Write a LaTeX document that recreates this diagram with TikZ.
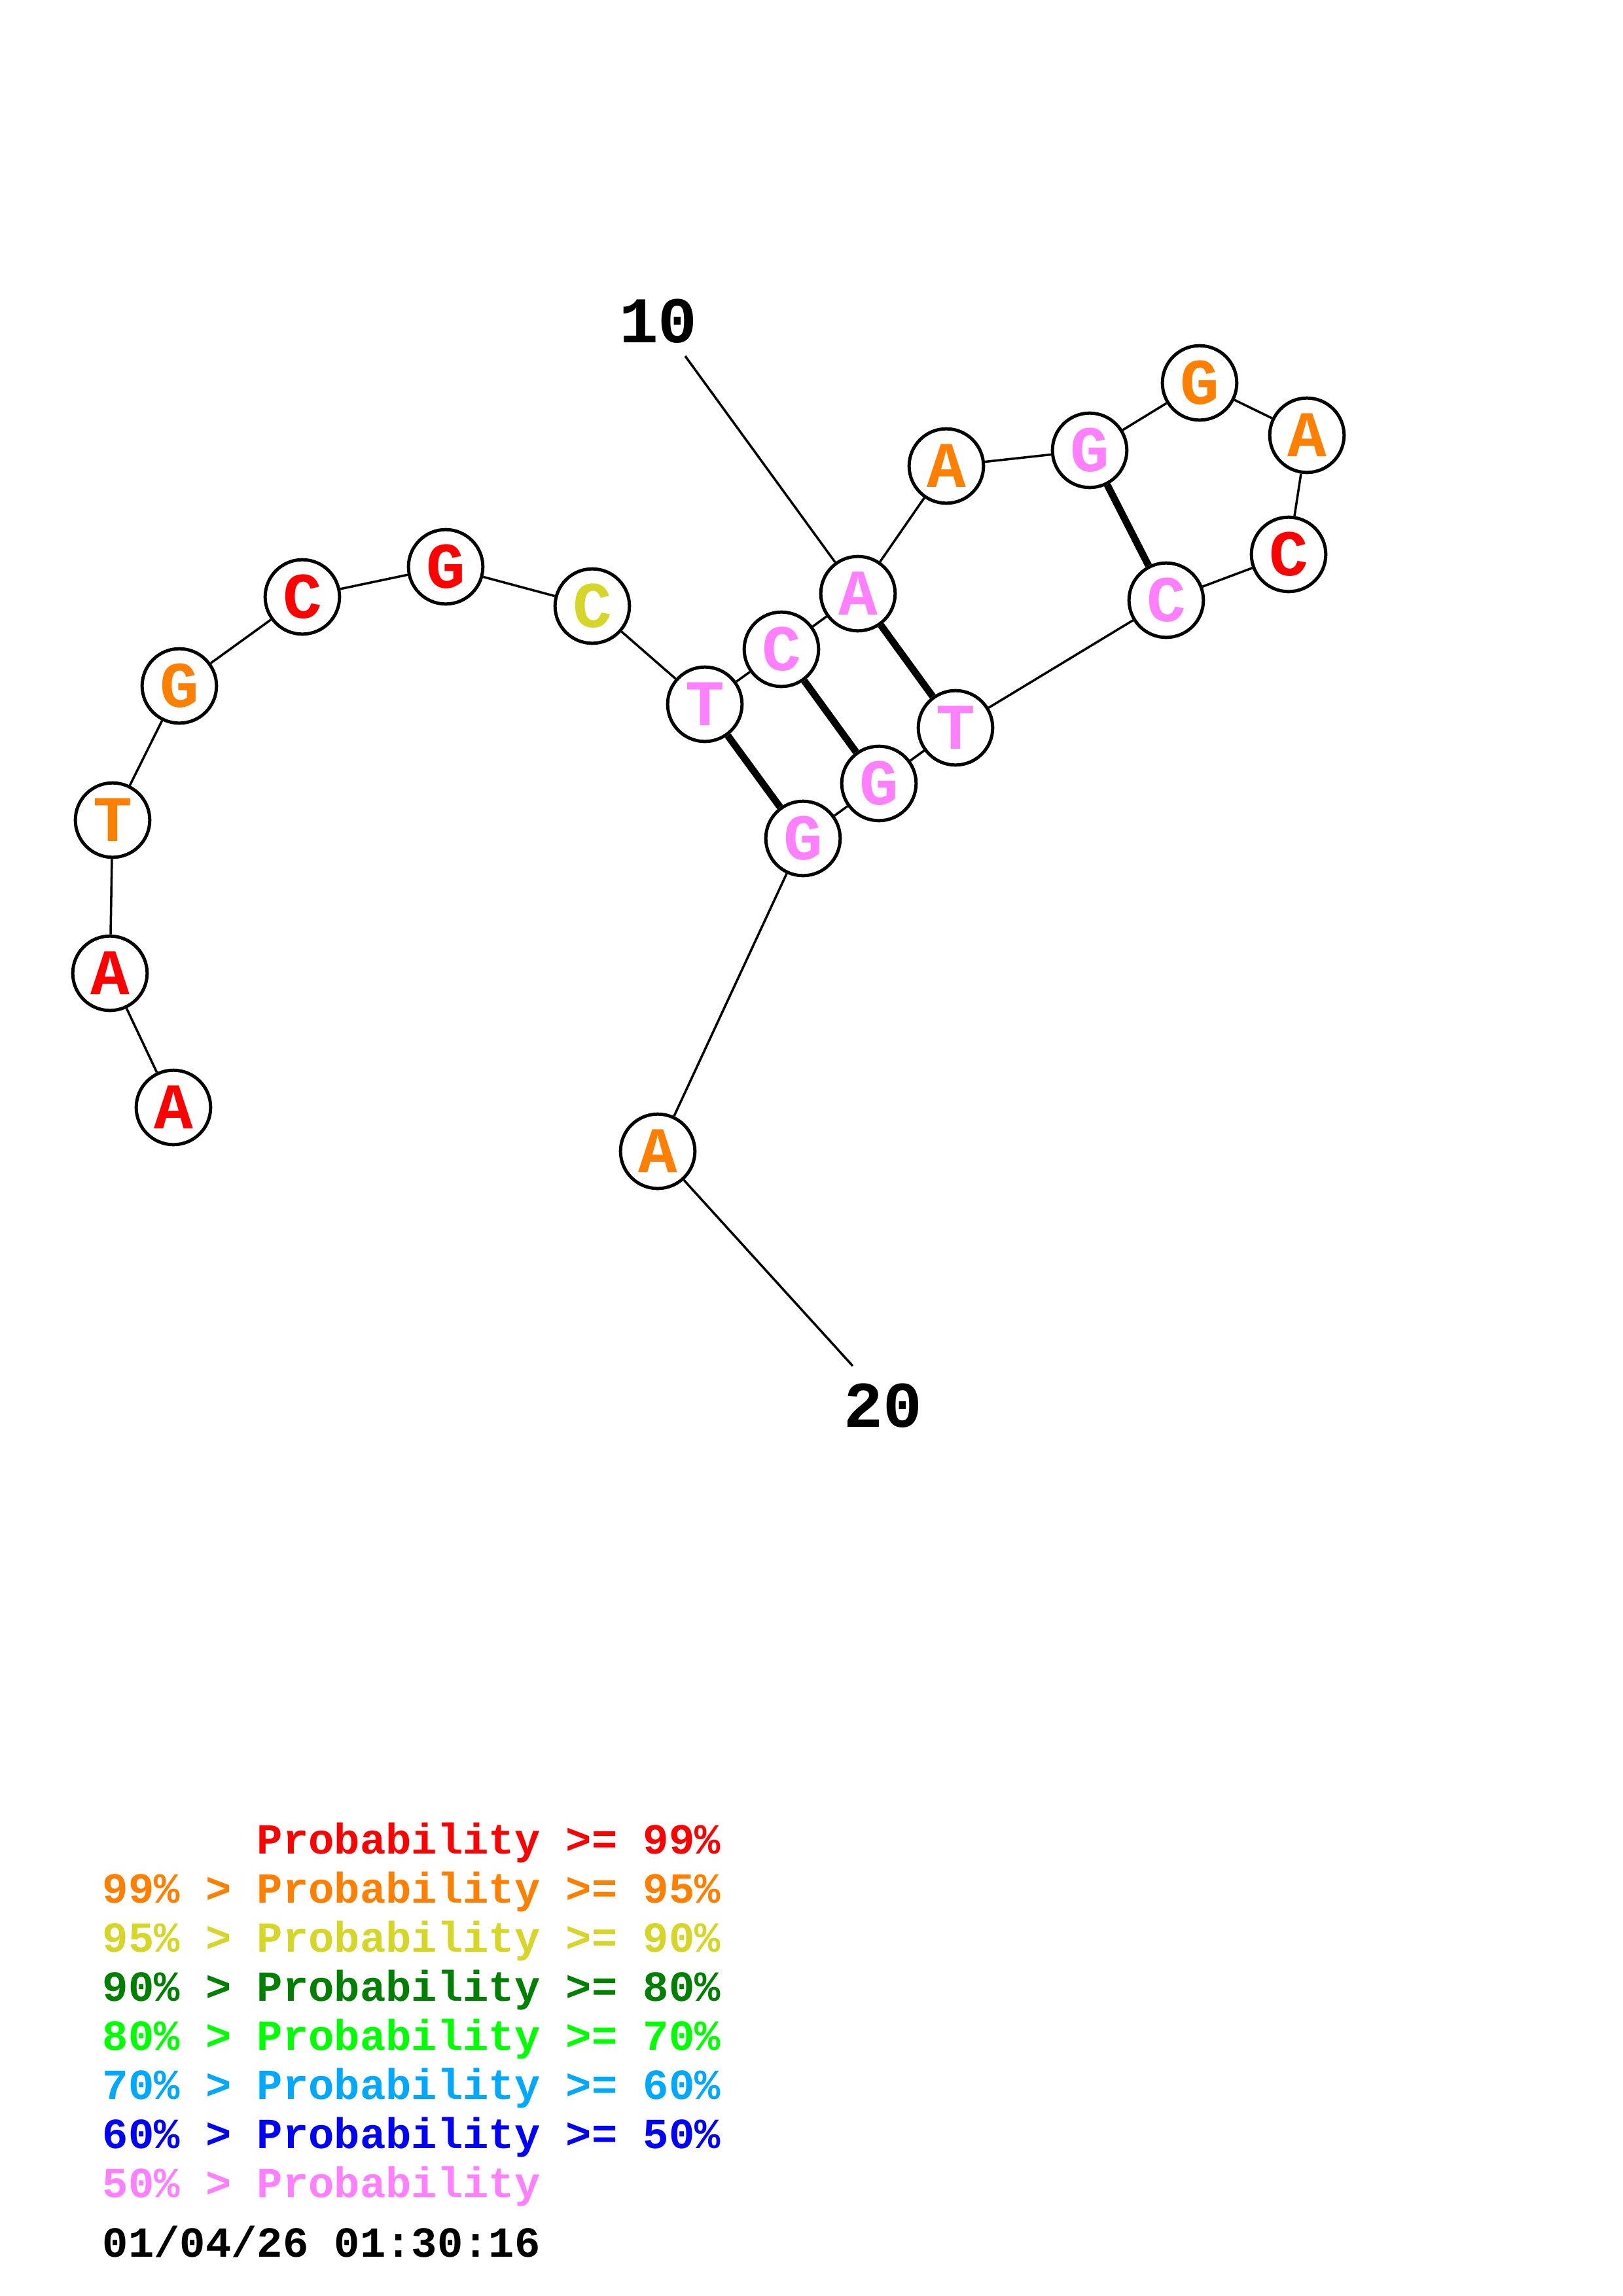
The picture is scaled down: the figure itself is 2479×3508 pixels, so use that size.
\documentclass[tikz,border=0pt]{standalone}
\usepackage{fontspec}
\setmonofont{Liberation Mono}
\usepackage{tikz}
\usetikzlibrary{positioning}

\definecolor{pOne}{RGB}{255,0,0}
\definecolor{pTwo}{RGB}{255,128,0}
\definecolor{pThree}{RGB}{214,214,40}
\definecolor{pFour}{RGB}{0,128,0}
\definecolor{pFive}{RGB}{0,255,0}
\definecolor{pSix}{RGB}{0,168,255}
\definecolor{pSeven}{RGB}{0,0,255}
\definecolor{pEight}{RGB}{255,128,255}

\newcommand{\nucfont}{\ttfamily\bfseries\fontsize{24}{24}\selectfont}
\newcommand{\legfont}{\ttfamily\bfseries\fontsize{15.8}{18}\selectfont}

\begin{document}
\begin{tikzpicture}[x=0.08471mm, y=-0.08471mm,
    nuc/.style={circle, draw, line width=1.2pt, minimum size=27.4pt, inner sep=0pt, fill=white, font=\nucfont},
    bb/.style={line width=0.85pt},
    pair/.style={line width=2.6pt},
    num/.style={inner sep=0pt, font=\nucfont},
    leg/.style={anchor=base west, inner sep=0pt, font=\legfont}]
    \useasboundingbox (0,0) rectangle (2479,3508);

    % bases
    \node [nuc, text=pOne] (n1) at (265,1692) {A};
    \node [nuc, text=pOne] (n2) at (168,1487) {A};
    \node [nuc, text=pTwo] (n3) at (172,1253) {T};
    \node [nuc, text=pTwo] (n4) at (274,1048) {G};
    \node [nuc, text=pOne] (n5) at (462,912) {C};
    \node [nuc, text=pOne] (n6) at (681,866) {G};
    \node [nuc, text=pThree] (n7) at (905,926) {C};
    \node [nuc, text=pEight] (n8) at (1077,1076) {T};
    \node [nuc, text=pEight] (n9) at (1194,992) {C};
    \node [nuc, text=pEight] (n10) at (1311,907) {A};
    \node [nuc, text=pTwo] (n11) at (1446,712) {A};
    \node [nuc, text=pEight] (n12) at (1665,688) {G};
    \node [nuc, text=pTwo] (n13) at (1833,585) {G};
    \node [nuc, text=pTwo] (n14) at (1997,665) {A};
    \node [nuc, text=pOne] (n15) at (1969,847) {C};
    \node [nuc, text=pEight] (n16) at (1782,917) {C};
    \node [nuc, text=pEight] (n17) at (1460,1112) {T};
    \node [nuc, text=pEight] (n18) at (1343,1197) {G};
    \node [nuc, text=pEight] (n19) at (1227,1281) {G};
    \node [nuc, text=pTwo] (n20) at (1005,1759) {A};

    % backbone and pairs
    \draw [bb] (n1) -- (n2) -- (n3) -- (n4) -- (n5) -- (n6) -- (n7) -- (n8) -- (n9) -- (n10)
        -- (n11) -- (n12) -- (n13) -- (n14) -- (n15) -- (n16) -- (n17) -- (n18) -- (n19) -- (n20);
    \draw [pair] (n8) -- (n19);
    \draw [pair] (n9) -- (n18);
    \draw [pair] (n10) -- (n17);
    \draw [pair] (n12) -- (n16);

    % position labels
    \node [num] (lab10) at (1006,491) {10};
    \coordinate (tick10) at (1047,544);
    \draw [bb] (tick10) -- (n10);
    \node [num] (lab20) at (1349,2148) {20};
    \coordinate (tick20) at (1303,2087);
    \draw [bb] (n20) -- (tick20);

    % legend
    \node [leg, text=pOne] (leg1) at (156,2832) {\hphantom{99\% > }Probability >= 99\%};
    \node [leg, text=pTwo] (leg2) at (156,2907) {99\% > Probability >= 95\%};
    \node [leg, text=pThree] (leg3) at (156,2982) {95\% > Probability >= 90\%};
    \node [leg, text=pFour] (leg4) at (156,3057) {90\% > Probability >= 80\%};
    \node [leg, text=pFive] (leg5) at (156,3132) {80\% > Probability >= 70\%};
    \node [leg, text=pSix] (leg6) at (156,3207) {70\% > Probability >= 60\%};
    \node [leg, text=pSeven] (leg7) at (156,3282) {60\% > Probability >= 50\%};
    \node [leg, text=pEight] (leg8) at (156,3357) {50\% > Probability};
    \node [leg] (stamp) at (156,3448) {01/04/26 01:30:16};
\end{tikzpicture}
\end{document}
